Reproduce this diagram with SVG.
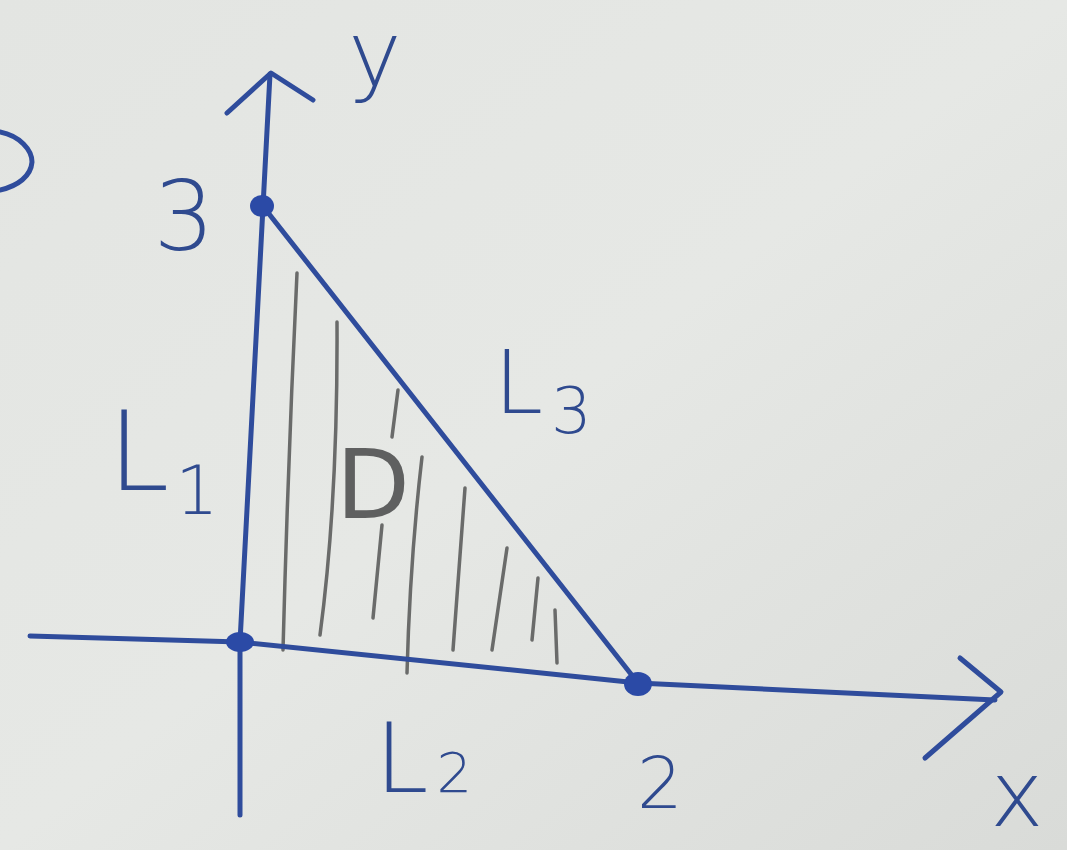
<svg xmlns="http://www.w3.org/2000/svg" width="1067" height="850" viewBox="0 0 1067 850">
<defs>
<linearGradient id="paper" x1="0" y1="0" x2="1" y2="1">
<stop offset="0" stop-color="#e3e5e2"/>
<stop offset="0.5" stop-color="#e6e8e5"/>
<stop offset="1" stop-color="#d9dbd8"/>
</linearGradient>
<style>
.ink{fill:none;stroke:#2f4c9c;stroke-width:5;stroke-linecap:round;stroke-linejoin:round}
.dot{fill:#2b4aa6}
.pencil{fill:none;stroke:#6a6b6a;stroke-width:3.5;stroke-linecap:round}
.lbl{font-family:"DejaVu Sans",sans-serif;fill:#2f4a8f;font-weight:300}
.plbl{font-family:"DejaVu Sans",sans-serif;fill:#5f6060}
</style>
</defs>
<rect width="1067" height="850" fill="url(#paper)"/>
<g id="edge-mark">
<path class="ink" d="M0,132 C20,136 32,150 32,162 C31,176 18,186 0,190"/>
</g>
<g id="hatching">
<path class="pencil" d="M297,273 Q288,460 283,650"/>
<path class="pencil" d="M337,322 Q338,500 320,635"/>
<path class="pencil" d="M398,390 L392,437"/>
<path class="pencil" d="M382,525 L373,618"/>
<path class="pencil" d="M422,457 Q410,560 407,673"/>
<path class="pencil" d="M465,488 L453,650"/>
<path class="pencil" d="M507,548 L492,650"/>
<path class="pencil" d="M538,578 L532,640"/>
<path class="pencil" d="M555,610 L557,663"/>
</g>
<g id="connectors">
<path id="y-axis" class="ink" d="M240,815 L240,642 L270,74"/>
<path id="y-arrow" class="ink" d="M227,113 L271,73 L313,100"/>
<path id="x-axis" class="ink" d="M30,636 L240,642 L638,683 L995,700"/>
<path id="x-arrow" class="ink" d="M960,658 L1001,692 L925,758"/>
<path id="L3-line" class="ink" d="M262,205 L638,683"/>
</g>
<g id="node-origin"><ellipse class="dot" cx="240" cy="642" rx="14" ry="10"/></g>
<g id="node-y3"><ellipse class="dot" cx="262" cy="206" rx="12" ry="11"/></g>
<g id="node-x2"><ellipse class="dot" cx="638" cy="684" rx="14" ry="12"/></g>
<g id="labels">
<text class="lbl" x="375" y="86" font-size="90" text-anchor="middle">y</text>
<text class="lbl" x="184" y="250" font-size="96" text-anchor="middle">3</text>
<text class="lbl" x="108" y="490" font-size="110">L<tspan font-size="68" dx="6" dy="24">1</tspan></text>
<text class="lbl" x="494" y="413" font-size="88">L<tspan font-size="64" dx="8" dy="20">3</tspan></text>
<text class="lbl" x="375" y="792" font-size="96">L<tspan font-size="56" dx="8">2</tspan></text>
<text class="lbl" x="660" y="808" font-size="72" text-anchor="middle">2</text>
<text class="lbl" x="1017" y="826" font-size="90" text-anchor="middle">x</text>
<text class="plbl" x="373" y="518" font-size="96" text-anchor="middle">D</text>
</g>
</svg>
